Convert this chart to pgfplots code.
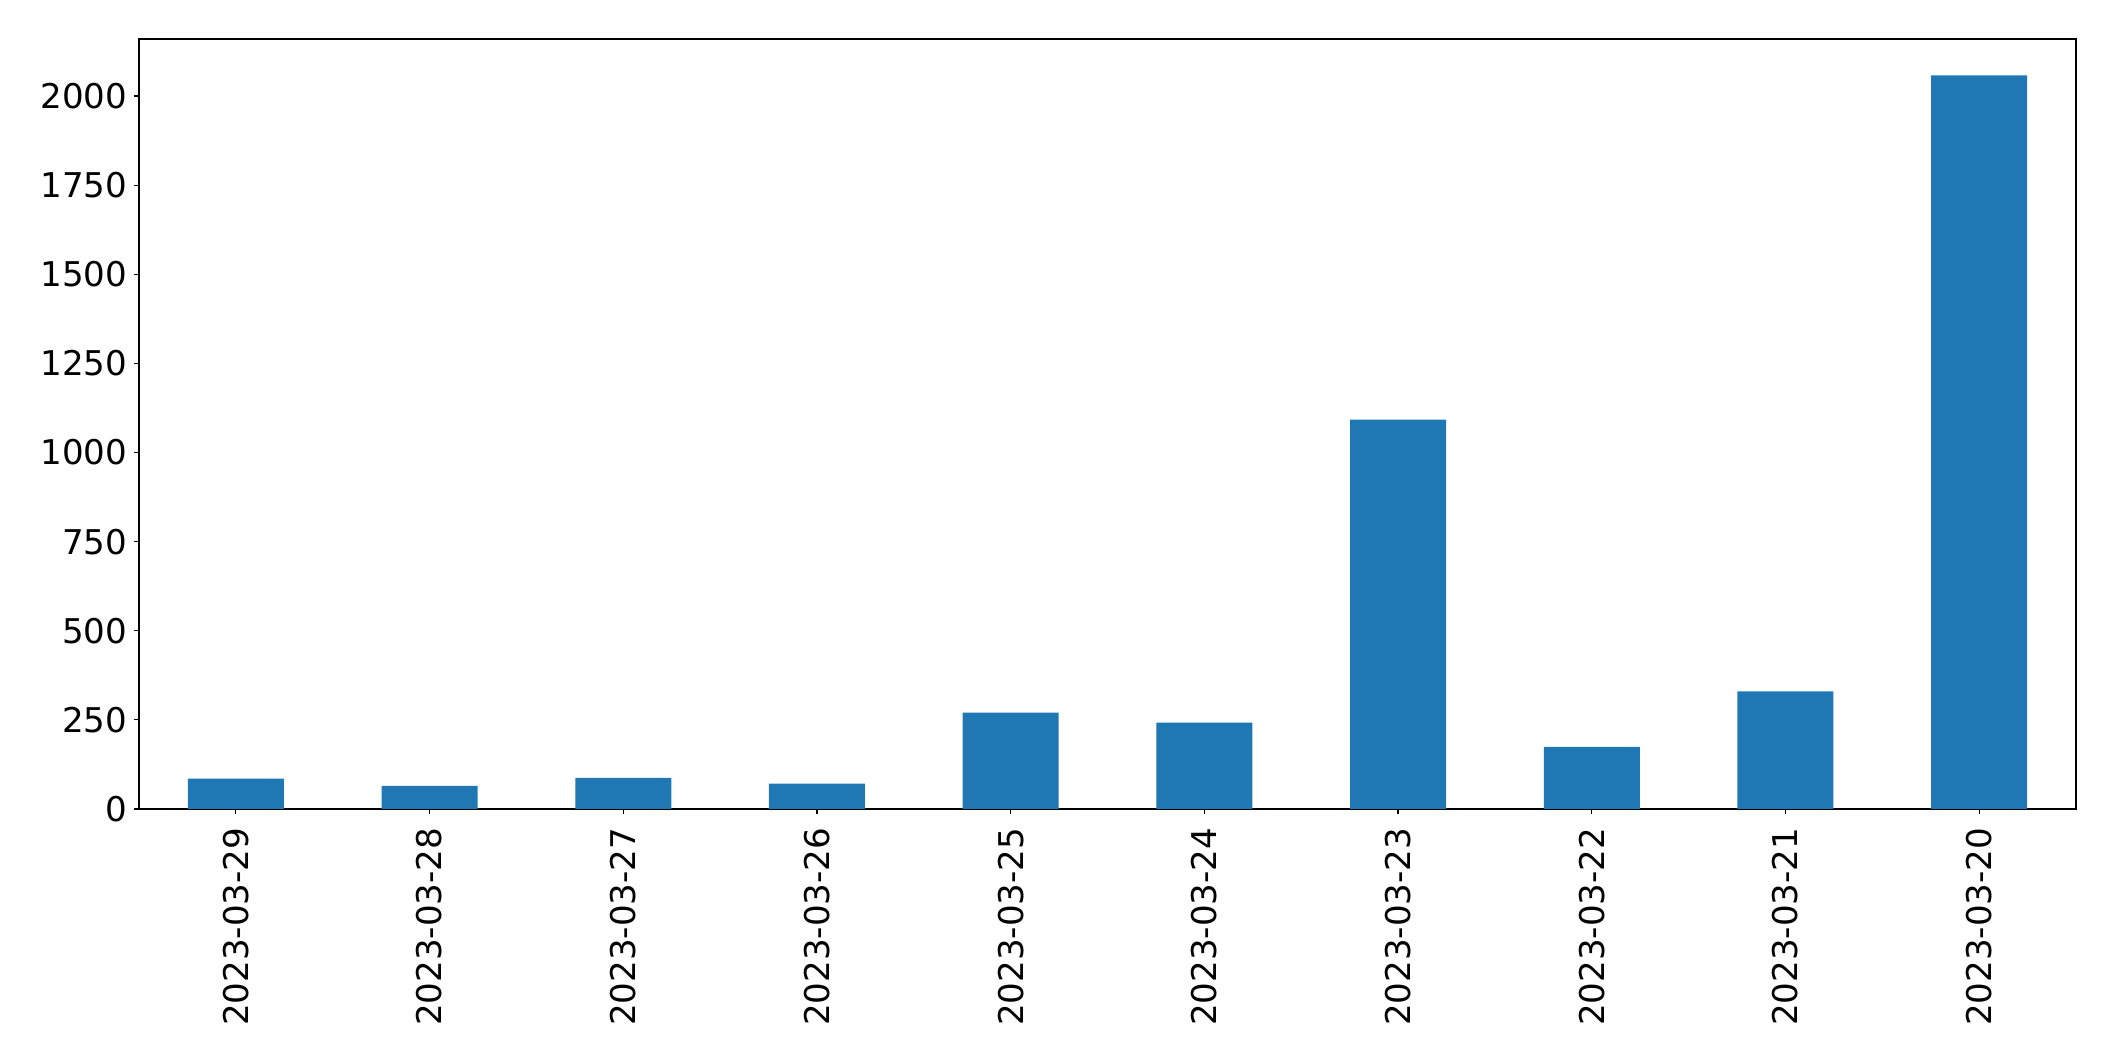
\documentclass[border=0pt]{standalone}
\usepackage{fontspec}
\setmainfont{DejaVu Sans}
\usepackage{pgfplots}
\pgfplotsset{compat=1.18}
\usetikzlibrary{calc}
\definecolor{mplblue}{HTML}{1F77B4}

\begin{document}
\begin{tikzpicture}
    \begin{axis}[
            name=ax,
            ybar,
            bar width=9.6mm,
            bar shift=0pt,
            width=193.7mm,
            height=77.0mm,
            scale only axis,
            xmin=-0.5, xmax=9.5,
            ymin=0, ymax=2160,
            xtick=data,
            xticklabels={2023-03-29,2023-03-28,2023-03-27,2023-03-26,2023-03-25,2023-03-24,2023-03-23,2023-03-22,2023-03-21,2023-03-20},
            ytick={0,250,500,750,1000,1250,1500,1750,2000},
            tick align=outside,
            tick pos=left,
            major tick length=0.5mm,
            tick style={black, line width=0.12mm},
            axis line style={line width=0.12mm},
            /pgf/number format/1000 sep={},
            /pgf/number format/assume math mode=true,
            ticklabel style={font=\fontsize{9.7}{12}\selectfont},
            x tick label style={rotate=90, anchor=east, inner sep=1.3mm},
            y tick label style={inner sep=0.6mm},
            scaled y ticks=false,
        ]
        \addplot[fill=mplblue, draw=none] coordinates {
            (0,85) (1,65) (2,87) (3,71) (4,270)
            (5,242) (6,1092) (7,174) (8,330) (9,2058)
        };
    \end{axis}
    \path ($(ax.south west)+(-13.9mm,-25.2mm)$) rectangle ($(ax.north east)+(3.9mm,3.9mm)$);
\end{tikzpicture}
\end{document}
